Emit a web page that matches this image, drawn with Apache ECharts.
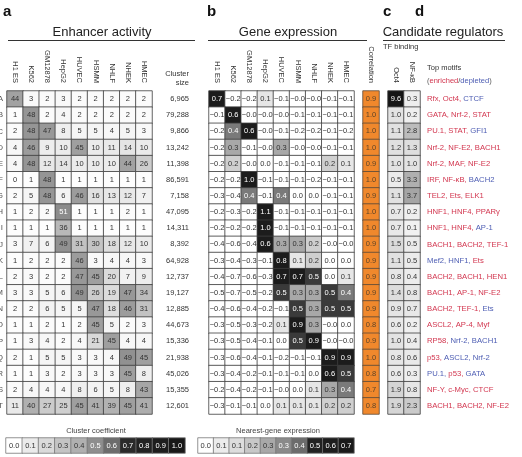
<!DOCTYPE html>
<html>
<head>
<meta charset="utf-8">
<script src="https://cdn.jsdelivr.net/npm/echarts/dist/echarts.min.js"></script>
<style>
  html, body { margin: 0; padding: 0; background: #fff; }
  #main { width: 522px; height: 457px; }
</style>
</head>
<body>
<div id="main"></div>
<script>
const rowLabels = ['A','B','C','D','E','F','G','H','I','J','K','L','M','N','O','P','Q','R','S','T'];
const cellTypes = ['H1 ES','K562','GM12878','HepG2','HUVEC','HSMM','NHLF','NHEK','HMEC'];

const enhancer = [
  [44,3,2,3,2,2,2,2,2],
  [1,48,2,4,2,2,2,2,2],
  [2,48,47,8,5,5,4,5,3],
  [4,46,9,10,45,10,11,14,10],
  [4,48,12,14,10,10,10,44,26],
  [0,1,48,1,1,1,1,1,1],
  [2,5,48,6,46,16,13,12,7],
  [1,2,2,51,1,1,1,2,1],
  [1,1,1,36,1,1,1,1,1],
  [3,7,6,49,31,30,18,12,10],
  [1,2,2,2,46,3,4,4,3],
  [2,3,2,2,47,45,20,7,9],
  [3,3,5,6,49,26,19,47,34],
  [2,2,6,5,5,47,18,46,31],
  [1,1,2,1,2,45,5,2,3],
  [1,3,4,2,4,21,45,4,4],
  [2,1,5,5,3,3,4,49,45],
  [1,1,3,2,3,3,3,45,8],
  [2,4,4,4,8,6,5,8,43],
  [11,40,27,25,45,41,39,45,41]
];
const clusterSizes = ['6,965','79,288','9,866','13,242','11,398','86,591','7,158','47,095','14,311','8,392',
  '64,928','12,737','19,127','12,885','44,673','15,336','21,938','45,026','15,355','12,601'];

const expression = [
  [0.7,-0.2,-0.2,0.1,-0.1,-0,-0,-0.1,-0.1],
  [-0.1,0.6,-0,-0,-0,-0.1,-0.1,-0.1,-0.1],
  [-0.2,0.4,0.6,-0,-0.1,-0.2,-0.2,-0.1,-0.2],
  [-0.2,0.3,-0.1,-0,0.3,-0,-0,-0.1,-0.1],
  [-0.2,0.2,-0,0.0,-0.1,-0.1,-0.1,0.2,0.1],
  [-0.2,-0.2,1.0,-0.1,-0.1,-0.1,-0.2,-0.1,-0.1],
  [-0.3,-0.4,0.4,-0.1,0.4,0.0,0.0,-0.1,-0.1],
  [-0.2,-0.3,-0.2,1.1,-0.1,-0.1,-0.1,-0.1,-0.1],
  [-0.2,-0.2,-0.2,1.0,-0.1,-0.1,-0.1,-0.1,-0.1],
  [-0.4,-0.6,-0.4,0.6,0.3,0.3,0.2,-0,-0],
  [-0.3,-0.4,-0.3,-0.1,0.8,0.1,0.2,0.0,0.0],
  [-0.4,-0.7,-0.6,-0.3,0.7,0.7,0.5,0.0,0.1],
  [-0.5,-0.7,-0.5,-0.2,0.5,0.3,0.3,0.5,0.4],
  [-0.4,-0.6,-0.4,-0.2,-0.1,0.5,0.3,0.5,0.5],
  [-0.3,-0.5,-0.3,-0.2,0.1,0.9,0.3,-0,0.0],
  [-0.3,-0.5,-0.4,-0.1,0.0,0.5,0.9,-0,-0],
  [-0.3,-0.6,-0.4,-0.1,-0.2,-0.1,-0.1,0.9,0.9],
  [-0.3,-0.4,-0.2,-0.1,-0.1,-0.1,0.0,0.6,0.5],
  [-0.2,-0.4,-0.2,-0.1,-0,0.0,0.1,0.3,0.4],
  [-0.3,-0.1,-0.1,0.0,0.1,0.1,0.1,0.2,0.2]
];
const correlation = [0.9,1.0,1.0,1.0,0.9,1.0,0.9,1.0,1.0,0.9,0.9,0.9,0.9,0.9,0.8,0.9,1.0,0.8,0.7,0.8];

const tfNames = ['Oct4','NF-\u03baB'];
const tfBinding = [
  [9.6,0.3],[1.0,0.2],[1.1,2.8],[1.2,1.3],[1.0,1.0],[0.5,3.3],[1.1,3.7],[0.7,0.2],[0.7,0.1],[1.5,0.5],
  [1.1,0.5],[0.8,0.4],[1.4,0.8],[0.9,0.7],[0.6,0.2],[1.0,0.4],[0.8,0.6],[0.6,0.3],[1.9,0.8],[1.9,2.3]
];

const motifNames = [
  ['Rfx','Oct4','CTCF'],['GATA','Nrf-2','STAT'],['PU.1','STAT','GFI1'],['Nrf-2','NF-E2','BACH1'],
  ['Nrf-2','MAF','NF-E2'],['IRF','NF-\u03baB','BACH2'],['TEL2','Ets','ELK1'],['HNF1','HNF4','PPAR\u03b3'],
  ['HNF1','HNF4','AP-1'],['BACH1','BACH2','TEF-1'],['Mef2','HNF1','Ets'],['BACH2','BACH1','HEN1'],
  ['BACH1','AP-1','NF-E2'],['BACH2','TEF-1','Ets'],['ASCL2','AP-4','Myf'],['RP58','Nrf-2','BACH1'],
  ['p53','ASCL2','Nrf-2'],['PU.1','p53','GATA'],['NF-Y','c-Myc','CTCF'],['BACH1','BACH2','NF-E2']
];
// 1 = enriched (red), 0 = depleted (blue)
const motifEnriched = [
  [1,1,0],[1,1,1],[1,1,0],[1,1,1],[1,1,1],[1,1,0],[1,1,1],[1,1,1],[1,1,0],[1,1,1],
  [0,0,1],[1,1,1],[1,1,1],[1,1,0],[1,1,1],[1,0,0],[1,0,0],[0,1,0],[1,1,1],[1,1,1]
];

const coefTicks = ['0.0','0.1','0.2','0.3','0.4','0.5','0.6','0.7','0.8','0.9','1.0'];
const exprTicks = ['0.0','0.1','0.1','0.2','0.3','0.3','0.4','0.5','0.6','0.7'];

const FONT = '"Liberation Sans", Arial, sans-serif';
const RED = '#d2364f';
const BLUE = '#4d5db3';
const BORDER = '#3c3c3c';

const coefColors = ['#ffffff','#ebebeb','#dadada','#c4c4c4','#b0b0b0','#8e8e8e','#6c6c6c','#2a2a2a','#222222','#1d1d1d','#181818'];
const exprLegendColors = ['#ffffff','#ececec','#dddddd','#c8c8c8','#a8a8a8','#8a8a8a','#6c6c6c','#222222','#1d1d1d','#1a1a1a'];
const geneColors = [];
for (let i = 0; i < 8; i++) geneColors.push('#ffffff');
geneColors.push('#e6e6e6', '#cfcfcf', '#a8a8a8', '#7a7a7a', '#3a3a3a');
for (let i = 0; i < 6; i++) geneColors.push('#1c1c1c');

const fmtExpr = v => (v < 0 || Object.is(v, -0)) ? '\u2212' + Math.abs(v).toFixed(1) : v.toFixed(1);

function cells(matrix, isDark) {
  const out = [];
  matrix.forEach((row, r) => row.forEach((v, c) => {
    out.push({ value: [c, r, v], label: { color: isDark(v) ? '#ffffff' : '#333333' } });
  }));
  return out;
}

const GRID_TOP = 91, GRID_H = 323;
const grids = [
  { left: 7, top: GRID_TOP, width: 145, height: GRID_H },
  { left: 209, top: GRID_TOP, width: 145, height: GRID_H },
  { left: 363, top: GRID_TOP, width: 16, height: GRID_H },
  { left: 388, top: GRID_TOP, width: 32, height: GRID_H },
  { left: 6, top: 438, width: 179, height: 15 },
  { left: 198, top: 438, width: 156, height: 15 }
].map(g => Object.assign({ outerBoundsMode: 'none', containLabel: false }, g));

const headerLabel = { show: true, rotate: 90, fontSize: 7.5, color: '#333', margin: 8, interval: 0, fontFamily: FONT };
const hiddenAxis = { axisLine: { show: false }, axisTick: { show: false }, splitLine: { show: false } };

function xCat(gridIndex, data, showLabel) {
  return Object.assign({
    type: 'category', gridIndex, data, position: 'top',
    axisLabel: showLabel ? headerLabel : { show: false }
  }, hiddenAxis);
}
function yCat(gridIndex, data, axisLabel, position) {
  return Object.assign({
    type: 'category', gridIndex, data, inverse: true, position: position || 'left',
    axisLabel: axisLabel || { show: false }
  }, hiddenAxis);
}

const motifLabels = motifNames.map((names, i) =>
  names.map((n, j) => (motifEnriched[i][j] ? '{r|' : '{b|') + n + (j < 2 ? ',' : '') + '}').join(' ')
);

const cellLabel = { show: true, fontSize: 7.5, fontFamily: FONT };
const cellStyle = { borderColor: BORDER, borderWidth: 0.8 };

const chart = echarts.init(document.getElementById('main'));
chart.setOption({
  animation: false,
  textStyle: { fontFamily: FONT },
  grid: grids,
  xAxis: [
    xCat(0, cellTypes, true),
    xCat(1, cellTypes, true),
    xCat(2, ['Correlation'], true),
    xCat(3, tfNames, true),
    xCat(4, coefTicks, false),
    xCat(5, exprTicks.map((t, i) => t + '_' + i), false)
  ],
  yAxis: [
    yCat(0, rowLabels, { show: true, fontSize: 8, color: '#555', margin: 4, interval: 0 }),
    yCat(0, clusterSizes, { show: true, fontSize: 7.5, color: '#333', margin: 37, align: 'right', interval: 0 }, 'right'),
    yCat(1, rowLabels),
    yCat(2, rowLabels),
    yCat(3, motifLabels, {
      show: true, fontSize: 7.7, margin: 7, align: 'left', interval: 0,
      rich: { r: { color: RED, fontSize: 7.7 }, b: { color: BLUE, fontSize: 7.7 } }
    }, 'right'),
    yCat(4, ['c']),
    yCat(5, ['e'])
  ],
  visualMap: [
    { show: false, type: 'continuous', seriesIndex: [0, 4], dimension: 2, min: 0, max: 100, inRange: { color: coefColors } },
    { show: false, type: 'continuous', seriesIndex: 1, dimension: 2, min: -0.7, max: 1.1, inRange: { color: geneColors } },
    { show: false, type: 'continuous', seriesIndex: 2, dimension: 2, min: 0, max: 1, inRange: { color: ['#f0882c', '#f0882c'] } },
    { show: false, type: 'continuous', seriesIndex: 3, dimension: 2, min: 0, max: 10,
      inRange: { color: ['#f2f2f2','#e3e3e3','#d3d3d3','#b6b6b6','#9e9e9e','#808080','#606060','#404040','#2a2a2a','#1a1a1a','#111111'] } },
    { show: false, type: 'continuous', seriesIndex: 5, dimension: 2, min: 0, max: 9, inRange: { color: exprLegendColors } }
  ],
  series: [
    {
      type: 'heatmap', xAxisIndex: 0, yAxisIndex: 0,
      data: cells(enhancer, v => v >= 50),
      itemStyle: cellStyle,
      label: Object.assign({ formatter: p => String(enhancer[p.value[1]][p.value[0]]) }, cellLabel)
    },
    {
      type: 'heatmap', xAxisIndex: 1, yAxisIndex: 2,
      data: cells(expression, v => v >= 0.35),
      itemStyle: cellStyle,
      label: Object.assign({ formatter: p => fmtExpr(expression[p.value[1]][p.value[0]]) }, cellLabel)
    },
    {
      type: 'heatmap', xAxisIndex: 2, yAxisIndex: 3,
      data: correlation.map((v, r) => ({ value: [0, r, v], label: { color: '#5e4428' } })),
      itemStyle: { borderColor: '#5a4a3a', borderWidth: 0.8 },
      label: Object.assign({ formatter: p => correlation[p.value[1]].toFixed(1) }, cellLabel)
    },
    {
      type: 'heatmap', xAxisIndex: 3, yAxisIndex: 4,
      data: cells(tfBinding, v => v >= 5),
      itemStyle: cellStyle,
      label: Object.assign({ formatter: p => tfBinding[p.value[1]][p.value[0]].toFixed(1) }, cellLabel)
    },
    {
      type: 'heatmap', xAxisIndex: 4, yAxisIndex: 5,
      data: coefTicks.map((t, i) => ({ value: [i, 0, parseFloat(t) * 100], label: { color: i >= 5 ? '#fff' : '#333' } })),
      itemStyle: { borderColor: '#777', borderWidth: 0.8 },
      label: Object.assign({ formatter: p => coefTicks[p.value[0]] }, cellLabel)
    },
    {
      type: 'heatmap', xAxisIndex: 5, yAxisIndex: 6,
      data: exprTicks.map((t, i) => ({ value: [i, 0, i], label: { color: i >= 5 ? '#fff' : '#333' } })),
      itemStyle: { borderColor: '#777', borderWidth: 0.8 },
      label: Object.assign({ formatter: p => exprTicks[p.value[0]] }, cellLabel)
    }
  ],
  graphic: [
    { type: 'text', left: 3, top: 4, style: { text: 'a', font: 'bold 15px ' + FONT, fill: '#111' } },
    { type: 'text', left: 207, top: 4, style: { text: 'b', font: 'bold 15px ' + FONT, fill: '#111' } },
    { type: 'text', left: 383, top: 4, style: { text: 'c', font: 'bold 15px ' + FONT, fill: '#111' } },
    { type: 'text', left: 415, top: 4, style: { text: 'd', font: 'bold 15px ' + FONT, fill: '#111' } },
    { type: 'text', x: 102, y: 32, style: { text: 'Enhancer activity', font: '13px ' + FONT, fill: '#222', textAlign: 'center', textVerticalAlign: 'middle' } },
    { type: 'text', x: 288, y: 32, style: { text: 'Gene expression', font: '13px ' + FONT, fill: '#222', textAlign: 'center', textVerticalAlign: 'middle' } },
    { type: 'text', x: 443, y: 32, style: { text: 'Candidate regulators', font: '13px ' + FONT, fill: '#222', textAlign: 'center', textVerticalAlign: 'middle' } },
    { type: 'line', shape: { x1: 8, y1: 40.5, x2: 195, y2: 40.5 }, style: { stroke: '#333', lineWidth: 1 } },
    { type: 'line', shape: { x1: 208, y1: 40.5, x2: 367, y2: 40.5 }, style: { stroke: '#333', lineWidth: 1 } },
    { type: 'line', shape: { x1: 383, y1: 40.5, x2: 505, y2: 40.5 }, style: { stroke: '#333', lineWidth: 1 } },
    { type: 'text', x: 383, y: 47, style: { text: 'TF binding', font: '7.5px ' + FONT, fill: '#333', textVerticalAlign: 'middle' } },
    { type: 'text', x: 427, y: 68, style: { text: 'Top motifs', font: '7.5px ' + FONT, fill: '#333', textVerticalAlign: 'middle' } },
    { type: 'text', x: 427, y: 81, style: {
        text: '{g|(}{r|enriched}{g|/}{b|depleted}{g|)}', font: '7.5px ' + FONT, textVerticalAlign: 'middle',
        rich: { g: { fill: '#555', fontSize: 7.5 }, r: { fill: RED, fontSize: 7.5 }, b: { fill: BLUE, fontSize: 7.5 } } } },
    { type: 'text', x: 189, y: 74, style: { text: 'Cluster', font: '7.5px ' + FONT, fill: '#333', textAlign: 'right', textVerticalAlign: 'middle' } },
    { type: 'text', x: 189, y: 83, style: { text: 'size', font: '7.5px ' + FONT, fill: '#333', textAlign: 'right', textVerticalAlign: 'middle' } },
    { type: 'text', x: 96, y: 431, style: { text: 'Cluster coefficient', font: '7.5px ' + FONT, fill: '#444', textAlign: 'center', textVerticalAlign: 'middle' } },
    { type: 'text', x: 278, y: 431, style: { text: 'Nearest-gene expression', font: '7.5px ' + FONT, fill: '#444', textAlign: 'center', textVerticalAlign: 'middle' } }
  ]
});
</script>
</body>
</html>
